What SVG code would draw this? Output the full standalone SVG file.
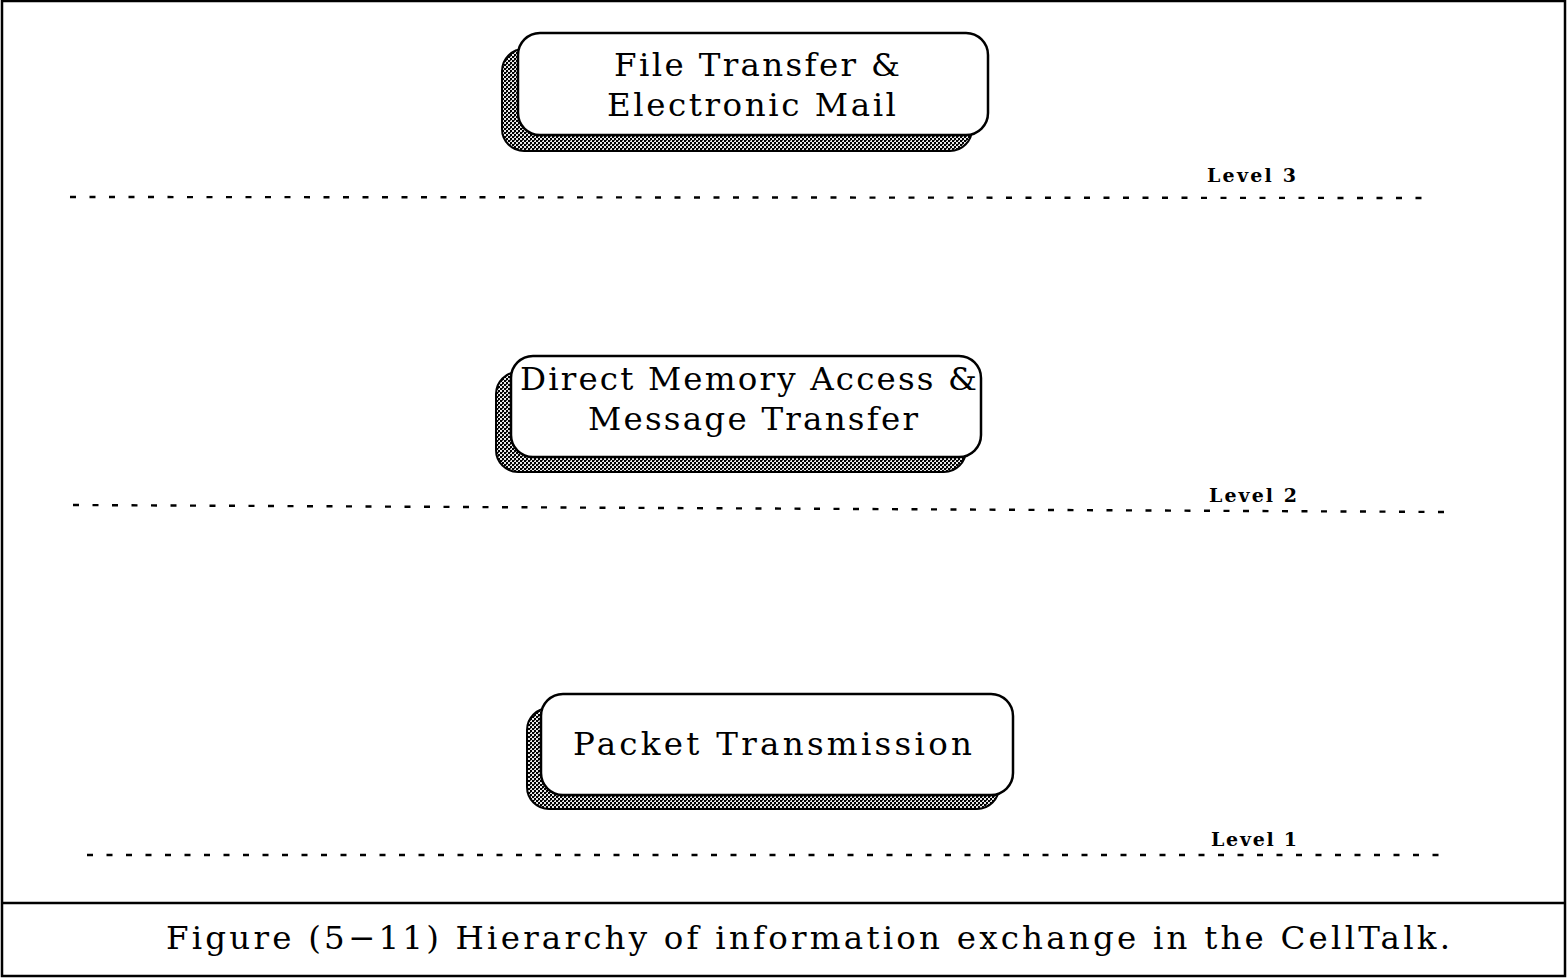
<svg xmlns="http://www.w3.org/2000/svg" width="1568" height="978" viewBox="0 0 1568 978">
<style>
.frame{fill:none;stroke:#000;stroke-width:2.5}
.front{fill:#fff;stroke:#000;stroke-width:2.5}
.shadow{fill:url(#stipple);stroke:#000;stroke-width:2}
.lbl{font-family:"DejaVu Serif","Liberation Serif",serif;font-size:32.5px;fill:#000}
.lvl{font-family:"DejaVu Serif","Liberation Serif",serif;font-size:19px;font-weight:bold;fill:#000}
.dash{stroke:#000;stroke-width:2.4;stroke-dasharray:6 13.5;fill:none}
</style>
<defs>
<pattern id="stipple" width="4" height="4" patternUnits="userSpaceOnUse">
<rect width="4" height="4" fill="#e8e8e8"/>
<rect x="0" y="0" width="2" height="2" fill="#000"/>
<rect x="2" y="2" width="2" height="2" fill="#000"/>
<rect x="2" y="0" width="1" height="1" fill="#444"/>
</pattern>
</defs>
<rect class="frame" x="2" y="1" width="1563" height="975"/>
<line class="frame" x1="2" y1="903" x2="1565" y2="903"/>

<g id="node-file-transfer">
<rect class="shadow" x="502" y="49" width="470" height="102" rx="22"/>
<rect class="front" x="518" y="33" width="470" height="102" rx="22"/>
<text class="lbl" x="614" y="76" textLength="286" lengthAdjust="spacing">File Transfer &amp;</text>
<text class="lbl" x="607" y="116" textLength="289" lengthAdjust="spacing">Electronic Mail</text>
</g>

<g id="node-dma">
<rect class="shadow" x="496" y="372" width="470" height="100" rx="22"/>
<rect class="front" x="511" y="356" width="470" height="101" rx="22"/>
<text class="lbl" x="520" y="390" textLength="457" lengthAdjust="spacing">Direct Memory Access &amp;</text>
<text class="lbl" x="588" y="430" textLength="330" lengthAdjust="spacing">Message Transfer</text>
</g>

<g id="node-packet">
<rect class="shadow" x="527" y="708" width="472" height="101" rx="22"/>
<rect class="front" x="541" y="694" width="472" height="101" rx="22"/>
<text class="lbl" x="573" y="755" textLength="399" lengthAdjust="spacing">Packet Transmission</text>
</g>

<g id="connectors">
<line class="dash" x1="70" y1="197" x2="1428" y2="198"/>
<line class="dash" x1="73" y1="505" x2="1450" y2="512"/>
<line class="dash" x1="87" y1="855" x2="1442" y2="855"/>
</g>

<g id="labels">
<text class="lvl" x="1207" y="182" textLength="89" lengthAdjust="spacing">Level 3</text>
<text class="lvl" x="1209" y="502" textLength="88" lengthAdjust="spacing">Level 2</text>
<text class="lvl" x="1211" y="846" textLength="86" lengthAdjust="spacing">Level 1</text>
</g>

<g id="caption">
<text class="lbl" x="166" y="949" textLength="1284" lengthAdjust="spacing">Figure (5−11) Hierarchy of information exchange in the CellTalk.</text>
</g>
</svg>
